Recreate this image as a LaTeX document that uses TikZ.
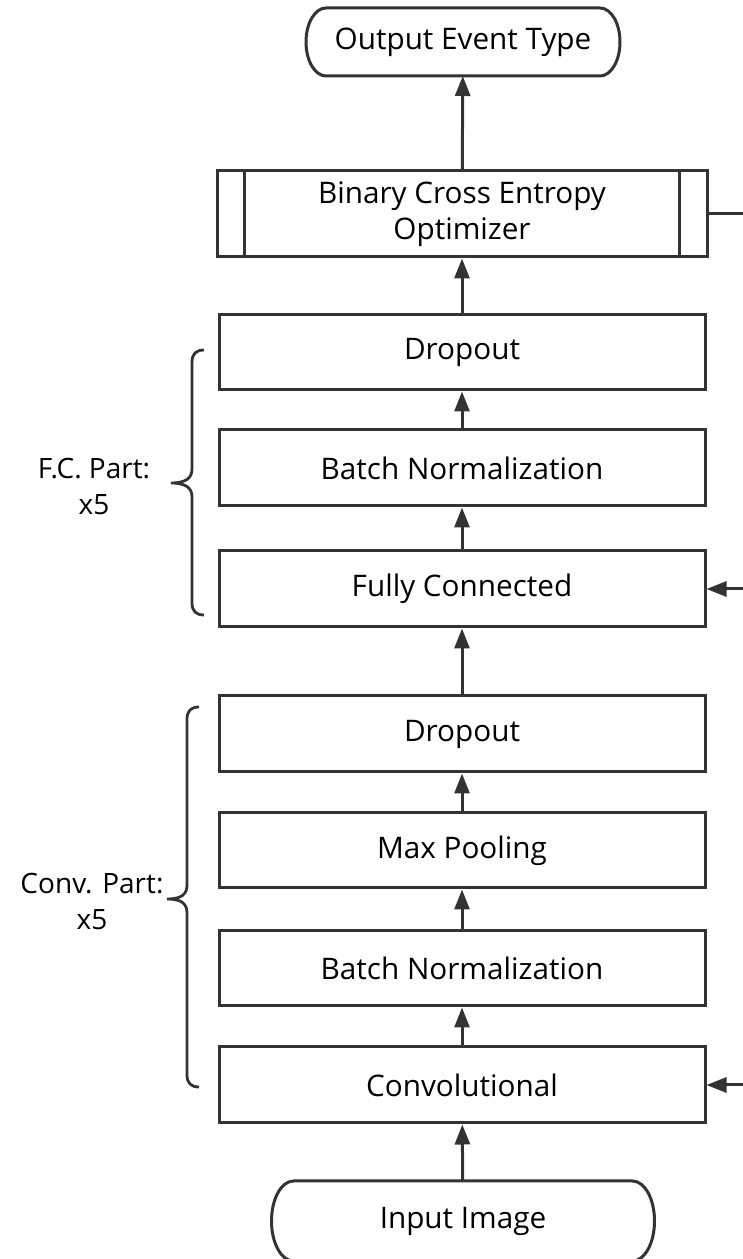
\documentclass[tikz,border=0pt]{standalone}
\usepackage{fontspec}
\setmainfont{Open Sans}
\usetikzlibrary{arrows.meta}
\definecolor{ln}{HTML}{333333}
\tikzset{
  box/.style={draw=ln, line width=3pt, minimum width=486pt, minimum height=76pt, inner sep=0pt, align=center, font=\fontsize{29.7}{36}\selectfont},
  term/.style={inner sep=0pt, outer sep=0pt, align=center, font=\fontsize{29.7}{36}\selectfont},
  conn/.style={draw=ln, line width=3pt, -{Triangle[length=20pt,width=15pt]}},
  plain/.style={draw=ln, line width=3pt},
  lbl/.style={align=center, font=\fontsize{28}{36}\selectfont, inner sep=0pt}
}
\begin{document}
\begin{tikzpicture}[x=1pt,y=1pt]
\useasboundingbox (0,0) rectangle (743,1259);
% nodes
\node[term, minimum width=314pt, minimum height=68pt] (out) at (463,1217) {Output Event Type};
\node[box, minimum width=490pt, minimum height=86pt] (bce) at (462,1045) {Binary Cross Entropy\\Optimizer};
\node[box, minimum height=75pt] (d2) at (462,906.5) {Dropout};
\node[box] (bn2) at (462,791) {Batch Normalization};
\node[box] (fc) at (462,670) {Fully Connected};
\node[box] (d1) at (462,525) {Dropout};
\node[box, minimum height=75pt] (mp) at (462,408.5) {Max Pooling};
\node[box, minimum height=75pt] (bn1) at (462,290.5) {Batch Normalization};
\node[box] (conv) at (462,174) {Convolutional};
\node[term, minimum width=383pt, minimum height=80pt] (in) at (463,38) {Input Image};
% stadium outlines
\draw[plain] ([xshift=20pt]out.north west) -- ([xshift=-20pt]out.north east)
  arc[start angle=90,end angle=-90,x radius=20pt,y radius=34pt]
  -- ([xshift=20pt]out.south west)
  arc[start angle=270,end angle=90,x radius=20pt,y radius=34pt] -- cycle;
\draw[plain] ([xshift=22pt]in.north west) -- ([xshift=-22pt]in.north east)
  arc[start angle=90,end angle=-90,x radius=22pt,y radius=40pt]
  -- ([xshift=22pt]in.south west)
  arc[start angle=270,end angle=90,x radius=22pt,y radius=40pt] -- cycle;
% side bars of the optimizer box
\draw[plain] ([xshift=29pt]bce.north west) -- ([xshift=29pt]bce.south west);
\draw[plain] ([xshift=-29pt]bce.north east) -- ([xshift=-29pt]bce.south east);
% connectors
\draw[conn] (bce) -- (out);
\draw[conn] (d2) -- (bce);
\draw[conn] (bn2) -- (d2);
\draw[conn] (fc) -- (bn2);
\draw[conn] (d1) -- (fc);
\draw[conn] (mp) -- (d1);
\draw[conn] (bn1) -- (mp);
\draw[conn] (conv) -- (bn1);
\draw[conn] (in) -- (conv);
% feedback
\coordinate (fbtop) at (770,1045);
\coordinate (fbfc) at (770,670);
\coordinate (fbconv) at (770,174);
\draw[plain] (bce.east) -- (fbtop);
\draw[conn] (fbfc) -- (fc.east);
\draw[conn] (fbconv) -- (conv.east);
% braces
\draw[plain, line width=2.8pt] (204,909) .. controls (196,909) and (192,905) .. (192,897) -- (192,790)
  .. controls (192,781) and (186,776) .. (171,776)
  .. controls (186,776) and (192,771) .. (192,762) -- (192,656)
  .. controls (192,648) and (196,644) .. (204,644);
\draw[plain, line width=2.8pt] (199,552) .. controls (191,552) and (187,548) .. (187,540) -- (187,374)
  .. controls (187,365) and (182,360) .. (167,360)
  .. controls (182,360) and (187,355) .. (187,346) -- (187,184)
  .. controls (187,176) and (191,172) .. (199,172);
% labels
\node[lbl] (fcl) at (94,772) {F.C. Part:\\x5};
\node[lbl] (cvl) at (92,357) {Conv. Part:\\x5};
\end{tikzpicture}
\end{document}
